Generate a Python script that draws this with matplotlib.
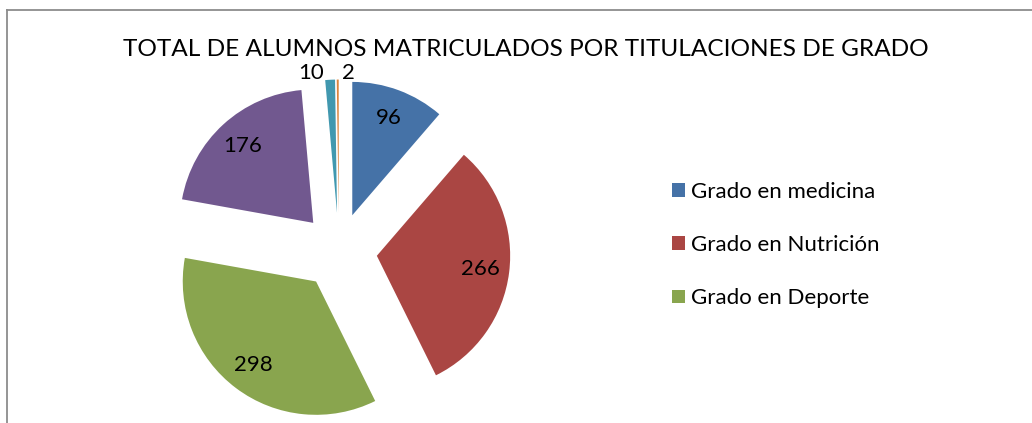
import numpy as np
import matplotlib
matplotlib.use('Agg')
import matplotlib.pyplot as plt
from matplotlib.lines import Line2D

# datos del gráfico
titulaciones = ['Grado en medicina', 'Grado en Nutrición', 'Grado en Deporte',
                'Grado 4', 'Grado 5', 'Grado 6']
alumnos = [96, 266, 298, 176, 10, 2]
colores = ['#4572A7', '#AA4643', '#89A54E', '#71588F', '#4198AF', '#DB843D']
titulo = 'TOTAL DE ALUMNOS MATRICULADOS POR TITULACIONES DE GRADO'

plt.rcParams['font.family'] = ['Lato', 'DejaVu Sans']

W, H = 1032, 423
fig = plt.figure(figsize=(W / 100, H / 100), dpi=100)

# marco del gráfico (borde gris superior e izquierdo)
gris = '#8c8c8c'
fig.add_artist(Line2D([7 / W, 1], [1 - 10 / H, 1 - 10 / H], color=gris, lw=1.3))
fig.add_artist(Line2D([7 / W, 7 / W], [0, 1 - 10 / H], color=gris, lw=1.3))

# ejes de la tarta: centro en (339, 251) px, radio 133 px
cx, cy, half = 339, 251, 200
ax = fig.add_axes([(cx - half) / W, (H - cy - half) / H, 2 * half / W, 2 * half / H])

wedges, textos, autotextos = ax.pie(
    alumnos,
    colors=colores,
    startangle=90,
    counterclock=False,
    explode=[0.286] * len(alumnos),
    autopct=lambda p: '{:.0f}'.format(p * sum(alumnos) / 100),
    pctdistance=0.78,
    textprops={'fontsize': 16, 'color': 'black'},
)
ax.set_xlim(-1.5, 1.5)
ax.set_ylim(-1.5, 1.5)
ax.axis('off')

# etiquetas pequeñas fuera de la tarta
for w, t, v in zip(wedges, autotextos, alumnos):
    if v < 20:
        ang = np.deg2rad((w.theta1 + w.theta2) / 2)
        x0, y0 = w.center
        x = x0 + 1.05 * w.r * np.cos(ang)
        y = y0 + 1.05 * w.r * np.sin(ang)
        if v == max(a for a in alumnos if a < 20):
            t.set_position((x - 0.04, y))
            t.set_ha('right')
        else:
            t.set_position((x + 0.03, y))
            t.set_ha('left')

fig.text(526 / W, 1 - 49 / H, titulo, ha='center', va='center', fontsize=17.6)

leg = fig.legend(
    wedges[:3], titulaciones[:3],
    loc='center left', bbox_to_anchor=(652 / W, 1 - 245 / H),
    frameon=False, fontsize=16,
    handlelength=0.58, handleheight=0.58, handletextpad=0.27,
    labelspacing=1.5,
)

fig.savefig('out.png', dpi=100)
